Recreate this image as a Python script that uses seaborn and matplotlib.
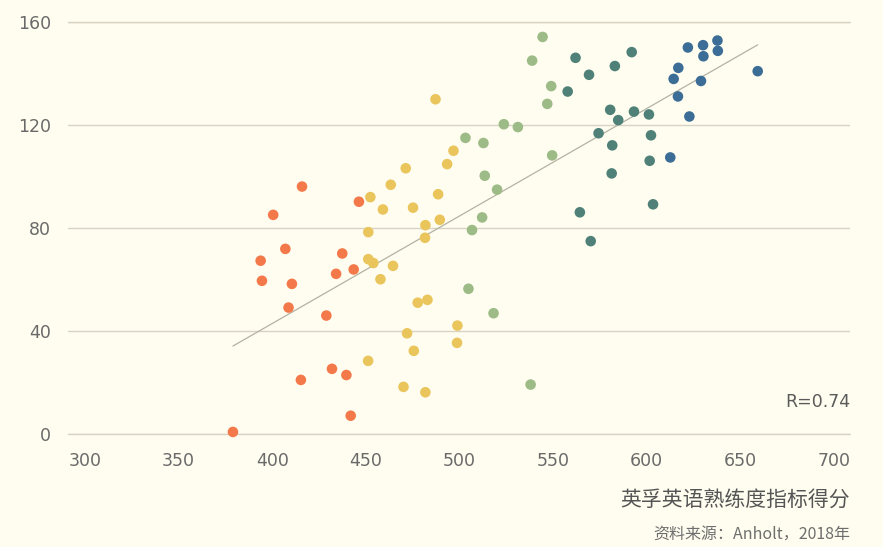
import numpy as np
import pandas as pd
import matplotlib
matplotlib.use('Agg')
import matplotlib.pyplot as plt
import seaborn as sns

# EF English proficiency score (x) vs. index value (y), grouped by proficiency band
orange_x = [415.9, 400.5, 446.3, 407.0, 393.8, 394.5, 410.5, 437.4, 434.1, 443.5, 408.7, 428.9, 431.9, 439.6, 415.3, 441.9, 379.0]
orange_y = [96.1, 85.1, 90.2, 71.9, 67.3, 59.5, 58.3, 70.1, 62.2, 63.9, 49.1, 46.0, 25.3, 22.9, 21.0, 7.1, 0.8]
yellow_x = [496.8, 493.4, 471.3, 463.3, 452.4, 488.6, 459.1, 475.2, 481.8, 489.5, 451.3, 481.6, 451.3,
            454.0, 464.5, 457.8, 477.7, 482.9, 498.9, 472.0, 498.7, 475.6, 451.2, 470.1, 481.8, 487.2]
yellow_y = [110.0, 104.8, 103.2, 96.8, 92.0, 93.1, 87.2, 87.9, 81.1, 83.2, 78.4, 76.2, 67.9,
            66.4, 65.3, 60.1, 51.0, 52.1, 42.1, 39.1, 35.4, 32.3, 28.4, 18.3, 16.2, 130.0]
green_x = [544.4, 538.8, 549.0, 546.9, 523.7, 531.2, 503.2, 512.8, 549.5, 513.5, 520.1, 512.1, 506.7, 504.8, 518.2, 538.0]
green_y = [154.2, 145.0, 135.1, 128.2, 120.3, 119.2, 115.0, 113.0, 108.2, 100.3, 94.9, 84.1, 79.2, 56.4, 46.9, 19.2]
teal_x = [562.0, 592.0, 569.2, 583.0, 557.8, 580.5, 593.2, 601.2, 584.8, 574.3, 602.3, 581.6, 601.6, 581.3, 603.4, 564.3, 570.1]
teal_y = [146.1, 148.3, 139.5, 142.9, 133.0, 125.9, 125.2, 124.1, 121.9, 116.8, 116.0, 112.1, 106.1, 101.2, 89.2, 86.1, 74.9]
blue_x = [637.8, 630.1, 622.0, 638.0, 630.3, 616.9, 659.3, 614.4, 629.0, 616.7, 622.8, 612.6]
blue_y = [152.8, 151.0, 150.1, 148.8, 146.7, 142.2, 140.9, 137.9, 137.1, 131.1, 123.3, 107.4]

bands = ['很低', '低', '中等', '高', '很高']
band_colors = ['#F4794A', '#E9C55C', '#9CBB86', '#4F8179', '#3C6D96']
x_ticks = [300, 350, 400, 450, 500, 550, 600, 650, 700]
y_ticks = [0, 40, 80, 120, 160]

df = pd.concat([
    pd.DataFrame({'x': xs, 'y': ys, 'band': b})
    for xs, ys, b in zip([orange_x, yellow_x, green_x, teal_x, blue_x],
                         [orange_y, yellow_y, green_y, teal_y, blue_y], bands)
], ignore_index=True)

BG = '#FFFDEF'
GRID = '#D7D4C5'
sns.set_style('white')
plt.rcParams['font.family'] = ['DejaVu Sans', 'Noto Sans CJK SC']

fig = plt.figure(figsize=(8.83, 5.47), dpi=100, facecolor=BG)
W, H = 883, 547
ax = fig.add_axes([68 / W, (H - 434) / H, (850 - 68) / W, (434 - 22) / H])
ax.set_facecolor(BG)

# trend line
sns.regplot(data=df, x='x', y='y', scatter=False, ci=None, ax=ax,
            line_kws={'color': '#B4B2A4', 'lw': 0.9, 'zorder': 2})

sns.scatterplot(data=df, x='x', y='y', hue='band', hue_order=bands, palette=band_colors,
                s=58, linewidth=0, legend=False, ax=ax, zorder=3, clip_on=False)

ax.set_xlim(290.9, 708.6)
ax.set_ylim(0, 160)
ax.set_xticks(x_ticks)
ax.set_yticks(y_ticks)
ax.grid(axis='y', color=GRID, lw=1)
ax.grid(axis='x', visible=False)
for v in (y_ticks[0], y_ticks[-1]):
    ax.axhline(v, color=GRID, lw=1, clip_on=False, zorder=0)
ax.set_axisbelow(True)
for s in ax.spines.values():
    s.set_visible(False)
ax.tick_params(axis='both', length=0, labelsize=12.5, labelcolor='#6A6A6A')
ax.tick_params(axis='y', pad=12)
ax.tick_params(axis='x', pad=13)
ax.set_xlabel('')
ax.set_ylabel('')

ax.text(1.0, 0.077, 'R=0.74', transform=ax.transAxes, ha='right', va='center',
        fontsize=12.5, color='#5A5A5A')

fig.text(850 / W, 1 - 500 / H, '英孚英语熟练度指标得分', ha='right', va='center',
         fontsize=15, color='#555555', family=['Noto Sans CJK SC', 'DejaVu Sans'])
fig.text(850 / W, 1 - 534 / H, '资料来源：Anholt，2018年', ha='right', va='center',
         fontsize=11.5, color='#6E6E6E', family=['Noto Sans CJK SC', 'DejaVu Sans'])

fig.savefig('out.png', dpi=100, facecolor=BG)
